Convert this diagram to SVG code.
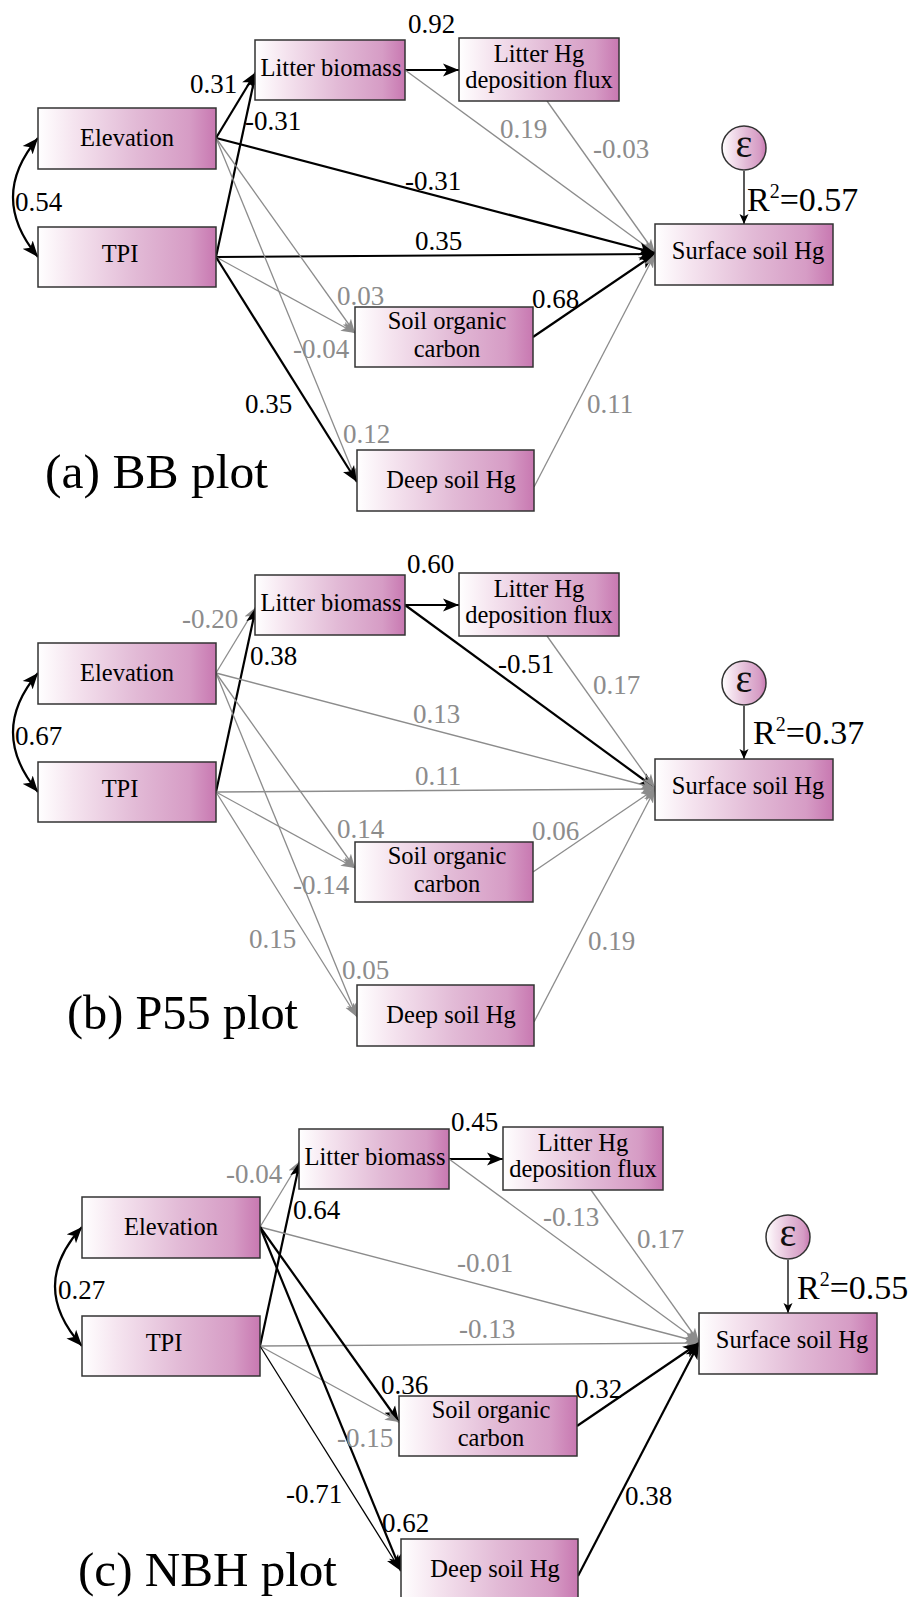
<svg xmlns="http://www.w3.org/2000/svg" width="909" height="1597" viewBox="0 0 909 1597" font-family="'Liberation Serif', 'Times New Roman', serif">
<defs>
<linearGradient id="pg" x1="0" y1="0" x2="1" y2="0">
<stop offset="0" stop-color="#ffffff"/>
<stop offset="0.2" stop-color="#f5e4ef"/>
<stop offset="0.55" stop-color="#e2bad6"/>
<stop offset="0.85" stop-color="#d69cc5"/>
<stop offset="1" stop-color="#c878b1"/>
</linearGradient>
<marker id="ak" viewBox="0 0 16 14" refX="16" refY="7" markerWidth="16" markerHeight="14" markerUnits="userSpaceOnUse" orient="auto">
<path d="M0,0.5 L16,7 L0,13.5 L4,7 z" fill="#000"/>
</marker>
<marker id="ak2" viewBox="0 0 16 14" refX="16" refY="7" markerWidth="16" markerHeight="14" markerUnits="userSpaceOnUse" orient="auto-start-reverse">
<path d="M0,0.5 L16,7 L0,13.5 L4,7 z" fill="#000"/>
</marker>
<marker id="ag" viewBox="0 0 14 11" refX="14" refY="5.5" markerWidth="14" markerHeight="11" markerUnits="userSpaceOnUse" orient="auto">
<path d="M0,0.5 L14,5.5 L0,10.5 L3.5,5.5 z" fill="#8c8c8c"/>
</marker>
<marker id="ae" viewBox="0 0 10 10" refX="10" refY="5" markerWidth="10" markerHeight="10" markerUnits="userSpaceOnUse" orient="auto">
<path d="M0,0.5 L10,5 L0,9.5 L2.5,5 z" fill="#000"/>
</marker>
<style>
.box{fill:url(#pg);stroke:#333;stroke-width:1.5}
.nt{font-family:"Liberation Serif","Times New Roman",serif;font-size:24.5px;fill:#000;text-anchor:middle}
.eps{font-family:"Liberation Serif","Times New Roman",serif;font-size:40px;fill:#111;text-anchor:middle}
.k{stroke:#000;stroke-width:2.2;fill:none;marker-end:url(#ak)}
.kt{stroke:#000;stroke-width:1.3;fill:none;marker-end:url(#ak)}
.g{stroke:#8c8c8c;stroke-width:1.3;fill:none;marker-end:url(#ag)}
.cv{stroke:#000;stroke-width:2.2;fill:none;marker-start:url(#ak2);marker-end:url(#ak2)}
.ea{stroke:#000;stroke-width:1.3;fill:none;marker-end:url(#ae)}
.lk{font-family:"Liberation Serif","Times New Roman",serif;font-size:27px;fill:#000}
.lg{font-family:"Liberation Serif","Times New Roman",serif;font-size:27px;fill:#8c8c8c}
.r2{font-family:"Liberation Serif","Times New Roman",serif;font-size:34px;fill:#000}
.ttl{font-family:"Liberation Serif","Times New Roman",serif;font-size:49px;fill:#000}
</style>
</defs>
<rect width="909" height="1597" fill="#ffffff"/>

<!-- Panel a -->
<g id="panel-a">
<g id="a-connectors">
<line class="k" x1="216" y1="138" x2="256" y2="72"/>
<line class="k" x1="216" y1="257" x2="256" y2="72"/>
<line class="k" x1="405" y1="70" x2="459" y2="70"/>
<line class="g" x1="405" y1="70" x2="655" y2="253"/>
<line class="g" x1="547" y1="101" x2="655" y2="253"/>
<line class="k" x1="216" y1="138" x2="655" y2="253"/>
<line class="k" x1="216" y1="257" x2="655" y2="254"/>
<line class="g" x1="216" y1="138" x2="355" y2="333"/>
<line class="g" x1="216" y1="257" x2="355" y2="333"/>
<line class="g" x1="216" y1="138" x2="357" y2="482"/>
<line class="k" x1="216" y1="257" x2="357" y2="482"/>
<line class="k" x1="533" y1="337" x2="655" y2="254"/>
<line class="g" x1="534" y1="487" x2="655" y2="254"/>
<path class="cv" d="M38,138 Q-12,197 38,257"/>
<line class="ea" x1="744" y1="171" x2="744" y2="224"/>
</g>
<g id="a-elevation"><rect class="box" x="38" y="108" width="178" height="61"/><text class="nt" x="127" y="146">Elevation</text></g>
<g id="a-tpi"><rect class="box" x="38" y="227" width="178" height="60"/><text class="nt" x="120" y="262">TPI</text></g>
<g id="a-litter"><rect class="box" x="255" y="40" width="150" height="60"/><text class="nt" x="331" y="76">Litter biomass</text></g>
<g id="a-flux"><rect class="box" x="459" y="38" width="160" height="63"/><text class="nt" x="539" y="62">Litter Hg</text><text class="nt" x="539" y="88">deposition flux</text></g>
<g id="a-surface"><rect class="box" x="655" y="224" width="178" height="61"/><text class="nt" x="748" y="259">Surface soil Hg</text></g>
<g id="a-soc"><rect class="box" x="355" y="307" width="178" height="60"/><text class="nt" x="447" y="329">Soil organic</text><text class="nt" x="447" y="357">carbon</text></g>
<g id="a-deep"><rect class="box" x="357" y="450" width="177" height="61"/><text class="nt" x="451" y="488">Deep soil Hg</text></g>
<g id="a-eps"><circle cx="744" cy="148" r="22" fill="url(#pg)" stroke="#333" stroke-width="1.5"/><text class="eps" x="744" y="157">ε</text></g>
</g>

<!-- Panel b -->
<g id="panel-b" transform="translate(0,535)">
<g id="b-connectors">
<line class="g" x1="216" y1="138" x2="256" y2="72"/>
<line class="k" x1="216" y1="257" x2="256" y2="72"/>
<line class="k" x1="405" y1="70" x2="459" y2="70"/>
<line class="k" x1="405" y1="70" x2="655" y2="253"/>
<line class="g" x1="547" y1="101" x2="655" y2="253"/>
<line class="g" x1="216" y1="138" x2="655" y2="253"/>
<line class="g" x1="216" y1="257" x2="655" y2="254"/>
<line class="g" x1="216" y1="138" x2="355" y2="333"/>
<line class="g" x1="216" y1="257" x2="355" y2="333"/>
<line class="g" x1="216" y1="138" x2="357" y2="482"/>
<line class="g" x1="216" y1="257" x2="357" y2="482"/>
<line class="g" x1="533" y1="337" x2="655" y2="254"/>
<line class="g" x1="534" y1="487" x2="655" y2="254"/>
<path class="cv" d="M38,138 Q-12,197 38,257"/>
<line class="ea" x1="744" y1="171" x2="744" y2="224"/>
</g>
<g id="b-elevation"><rect class="box" x="38" y="108" width="178" height="61"/><text class="nt" x="127" y="146">Elevation</text></g>
<g id="b-tpi"><rect class="box" x="38" y="227" width="178" height="60"/><text class="nt" x="120" y="262">TPI</text></g>
<g id="b-litter"><rect class="box" x="255" y="40" width="150" height="60"/><text class="nt" x="331" y="76">Litter biomass</text></g>
<g id="b-flux"><rect class="box" x="459" y="38" width="160" height="63"/><text class="nt" x="539" y="62">Litter Hg</text><text class="nt" x="539" y="88">deposition flux</text></g>
<g id="b-surface"><rect class="box" x="655" y="224" width="178" height="61"/><text class="nt" x="748" y="259">Surface soil Hg</text></g>
<g id="b-soc"><rect class="box" x="355" y="307" width="178" height="60"/><text class="nt" x="447" y="329">Soil organic</text><text class="nt" x="447" y="357">carbon</text></g>
<g id="b-deep"><rect class="box" x="357" y="450" width="177" height="61"/><text class="nt" x="451" y="488">Deep soil Hg</text></g>
<g id="b-eps"><circle cx="744" cy="148" r="22" fill="url(#pg)" stroke="#333" stroke-width="1.5"/><text class="eps" x="744" y="157">ε</text></g>
</g>

<!-- Panel c -->
<g id="panel-c" transform="translate(44,1089)">
<g id="c-connectors">
<line class="g" x1="216" y1="138" x2="256" y2="72"/>
<line class="k" x1="216" y1="257" x2="256" y2="72"/>
<line class="k" x1="405" y1="70" x2="459" y2="70"/>
<line class="g" x1="405" y1="70" x2="655" y2="253"/>
<line class="g" x1="547" y1="101" x2="655" y2="253"/>
<line class="g" x1="216" y1="138" x2="655" y2="253"/>
<line class="g" x1="216" y1="257" x2="655" y2="254"/>
<line class="k" x1="216" y1="138" x2="355" y2="333"/>
<line class="g" x1="216" y1="257" x2="355" y2="333"/>
<line class="k" x1="216" y1="138" x2="357" y2="482"/>
<line class="kt" x1="216" y1="257" x2="357" y2="482"/>
<line class="k" x1="533" y1="337" x2="655" y2="254"/>
<line class="k" x1="534" y1="487" x2="655" y2="254"/>
<path class="cv" d="M38,138 Q-16,197 38,257"/>
<line class="ea" x1="744" y1="171" x2="744" y2="224"/>
</g>
<g id="c-elevation"><rect class="box" x="38" y="108" width="178" height="61"/><text class="nt" x="127" y="146">Elevation</text></g>
<g id="c-tpi"><rect class="box" x="38" y="227" width="178" height="60"/><text class="nt" x="120" y="262">TPI</text></g>
<g id="c-litter"><rect class="box" x="255" y="40" width="150" height="60"/><text class="nt" x="331" y="76">Litter biomass</text></g>
<g id="c-flux"><rect class="box" x="459" y="38" width="160" height="63"/><text class="nt" x="539" y="62">Litter Hg</text><text class="nt" x="539" y="88">deposition flux</text></g>
<g id="c-surface"><rect class="box" x="655" y="224" width="178" height="61"/><text class="nt" x="748" y="259">Surface soil Hg</text></g>
<g id="c-soc"><rect class="box" x="355" y="307" width="178" height="60"/><text class="nt" x="447" y="329">Soil organic</text><text class="nt" x="447" y="357">carbon</text></g>
<g id="c-deep"><rect class="box" x="357" y="450" width="177" height="61"/><text class="nt" x="451" y="488">Deep soil Hg</text></g>
<g id="c-eps"><circle cx="744" cy="148" r="22" fill="url(#pg)" stroke="#333" stroke-width="1.5"/><text class="eps" x="744" y="157">ε</text></g>
</g>

<!-- Labels -->
<g id="labels-a">
<text class="lk" x="408" y="33">0.92</text>
<text class="lk" x="190" y="93">0.31</text>
<text class="lk" x="245" y="130">-0.31</text>
<text class="lk" x="15" y="211">0.54</text>
<text class="lg" x="500" y="138">0.19</text>
<text class="lg" x="593" y="158">-0.03</text>
<text class="lk" x="405" y="190">-0.31</text>
<text class="lk" x="415" y="250">0.35</text>
<text class="lg" x="337" y="305">0.03</text>
<text class="lk" x="532" y="308">0.68</text>
<text class="lg" x="293" y="358">-0.04</text>
<text class="lk" x="245" y="413">0.35</text>
<text class="lg" x="587" y="413">0.11</text>
<text class="lg" x="343" y="443">0.12</text>
<text class="r2" x="747" y="211">R<tspan dy="-13" font-size="20">2</tspan><tspan dy="13">=0.57</tspan></text>
<text class="ttl" x="45" y="488" textLength="223" lengthAdjust="spacingAndGlyphs">(a) BB plot</text>
</g>
<g id="labels-b">
<text class="lk" x="407" y="573">0.60</text>
<text class="lg" x="182" y="628">-0.20</text>
<text class="lk" x="250" y="665">0.38</text>
<text class="lk" x="15" y="745">0.67</text>
<text class="lk" x="498" y="673">-0.51</text>
<text class="lg" x="593" y="694">0.17</text>
<text class="lg" x="413" y="723">0.13</text>
<text class="lg" x="415" y="785">0.11</text>
<text class="r2" x="753" y="744">R<tspan dy="-13" font-size="20">2</tspan><tspan dy="13">=0.37</tspan></text>
<text class="lg" x="337" y="838">0.14</text>
<text class="lg" x="532" y="840">0.06</text>
<text class="lg" x="293" y="894">-0.14</text>
<text class="lg" x="249" y="948">0.15</text>
<text class="lg" x="588" y="950">0.19</text>
<text class="lg" x="342" y="979">0.05</text>
<text class="ttl" x="67" y="1029" textLength="231" lengthAdjust="spacingAndGlyphs">(b) P55 plot</text>
</g>
<g id="labels-c">
<text class="lk" x="451" y="1131">0.45</text>
<text class="lg" x="226" y="1183">-0.04</text>
<text class="lk" x="293" y="1219">0.64</text>
<text class="lg" x="543" y="1226">-0.13</text>
<text class="lg" x="637" y="1248">0.17</text>
<text class="lg" x="457" y="1272">-0.01</text>
<text class="lk" x="58" y="1299">0.27</text>
<text class="r2" x="797" y="1299">R<tspan dy="-13" font-size="20">2</tspan><tspan dy="13">=0.55</tspan></text>
<text class="lg" x="459" y="1338">-0.13</text>
<text class="lk" x="381" y="1394">0.36</text>
<text class="lk" x="575" y="1398">0.32</text>
<text class="lg" x="337" y="1447">-0.15</text>
<text class="lk" x="286" y="1503">-0.71</text>
<text class="lk" x="625" y="1505">0.38</text>
<text class="lk" x="382" y="1532">0.62</text>
<text class="ttl" x="78" y="1586" textLength="259" lengthAdjust="spacingAndGlyphs">(c) NBH plot</text>
</g>
</svg>
